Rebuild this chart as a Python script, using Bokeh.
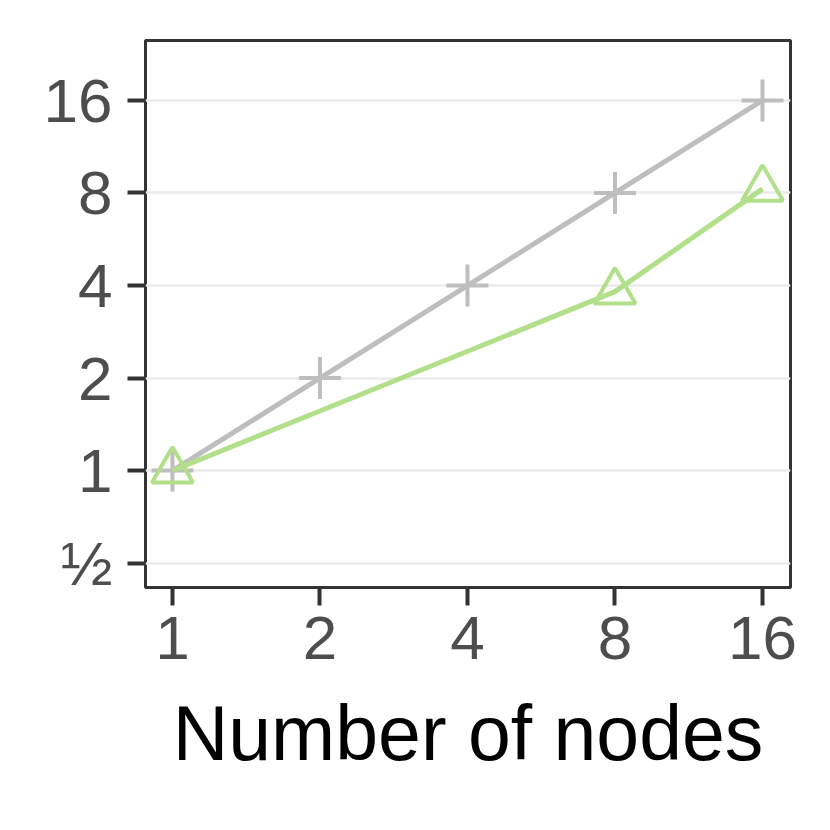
from bokeh.plotting import figure
from bokeh.models import FixedTicker, Range1d
from bokeh.embed import file_html
from bokeh.resources import INLINE

# Data
nodes_ideal = [1, 2, 4, 8, 16]
speedup_ideal = [1, 2, 4, 8, 16]
nodes_measured = [1, 8, 16]
speedup_measured = [1, 3.82, 8.25]

x_ticks = [1, 2, 4, 8, 16]
y_ticks = [0.5, 1, 2, 4, 8, 16]
y_tick_labels = ["½", "1", "2", "4", "8", "16"]

FONT = "Liberation Sans"

p = figure(width=822, height=822, x_axis_type="log", y_axis_type="log",
           x_range=Range1d(0.881, 18.25), y_range=Range1d(0.4166, 25.07),
           output_backend="svg", toolbar_location=None,
           min_border_left=145, min_border_right=32, min_border_top=40, min_border_bottom=235)
p.background_fill_color = "white"
p.border_fill_color = "white"
p.outline_line_color = "#333333"
p.outline_line_width = 3

p.line(nodes_ideal, speedup_ideal, line_color="#BEBEBE", line_width=5)
p.scatter(nodes_ideal, speedup_ideal, marker="cross", size=42, line_color="#BEBEBE",
          line_width=4, fill_color=None)
p.line(nodes_measured, speedup_measured, line_color="#B2DF8A", line_width=5)
p.scatter(nodes_measured, speedup_measured, marker="triangle", size=41, line_color="#B2DF8A",
          line_width=4, fill_color=None)

p.xaxis.ticker = FixedTicker(ticks=x_ticks, minor_ticks=[])
p.yaxis.ticker = FixedTicker(ticks=y_ticks, minor_ticks=[])
p.yaxis.major_label_overrides = {t: l for t, l in zip(y_ticks, y_tick_labels)}
p.xaxis.major_label_overrides = {t: str(t) for t in x_ticks}

for ax in (p.xaxis, p.yaxis):
    ax.axis_line_color = None
    ax.major_tick_line_color = "#333333"
    ax.major_tick_line_width = 4
    ax.major_tick_out = 18
    ax.major_tick_in = 0
    ax.minor_tick_line_color = None
    ax.major_label_text_font = FONT
    ax.major_label_text_font_size = "62px"
    ax.major_label_text_color = "#4D4D4D"

p.xaxis.major_label_standoff = 11
p.yaxis.major_label_standoff = 15
p.xaxis.axis_label = "Number of nodes"
p.xaxis.axis_label_text_font = FONT
p.xaxis.axis_label_text_font_size = "77px"
p.xaxis.axis_label_text_font_style = "normal"
p.xaxis.axis_label_text_color = "black"
p.xaxis.axis_label_standoff = 28

p.xgrid.grid_line_color = None
p.ygrid.grid_line_color = "#EBEBEB"
p.ygrid.grid_line_width = 2.5

open("out.html", "w").write(file_html(p, INLINE))
